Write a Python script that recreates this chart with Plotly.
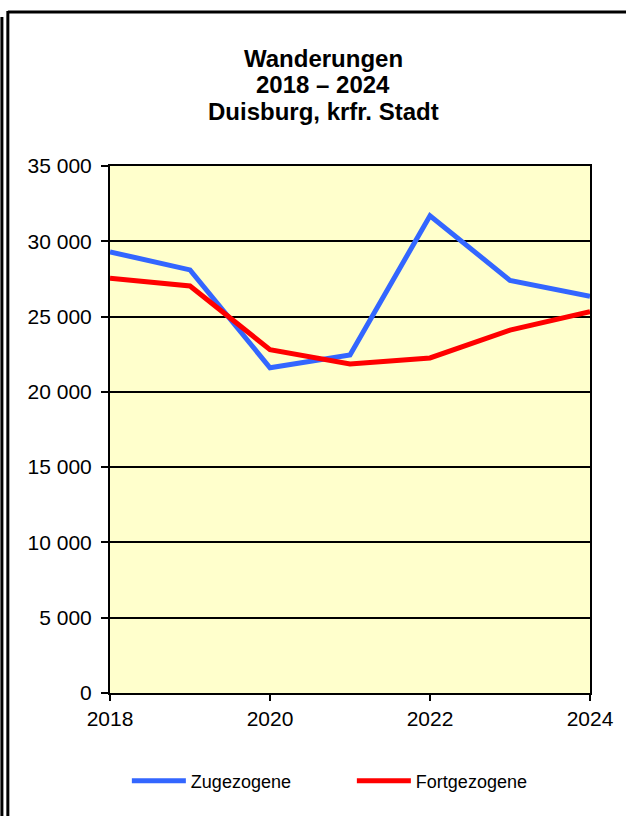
import plotly.graph_objects as go

years = [2018, 2019, 2020, 2021, 2022, 2023, 2024]
zugezogene = [29300, 28100, 21600, 22450, 31700, 27400, 26350]
fortgezogene = [27550, 27030, 22800, 21850, 22250, 24100, 25330]
y_ticks = [0, 5000, 10000, 15000, 20000, 25000, 30000, 35000]
y_tick_text = ["0", "5 000", "10 000", "15 000", "20 000", "25 000", "30 000", "35 000"]
title_lines = ["Wanderungen", "2018 – 2024", "Duisburg, krfr. Stadt"]

W, H = 626, 816
L, R, T, B = 110, 32, 166, 123
PW, PH = W - L - R, H - T - B

def px(x):
    return (x - L) / PW

def py(y):
    return (H - B - y) / PH

fig = go.Figure()
fig.add_trace(go.Scatter(x=years, y=zugezogene, mode="lines", name="Zugezogene",
                         line=dict(color="#3366FF", width=5)))
fig.add_trace(go.Scatter(x=years, y=fortgezogene, mode="lines", name="Fortgezogene",
                         line=dict(color="#FF0000", width=5)))

annotations = []
for t, yy in zip(title_lines, [58, 85, 112]):
    annotations.append(dict(text="<b>%s</b>" % t, x=px(325), y=py(yy), xref="paper", yref="paper",
                            xanchor="center", yanchor="middle", showarrow=False,
                            font=dict(family="Liberation Sans, Arial", size=24, color="black")))

shapes = [
    dict(type="line", xref="paper", yref="paper", x0=px(7), x1=px(640), y0=py(12), y1=py(12),
         line=dict(color="black", width=3)),
    dict(type="line", xref="paper", yref="paper", x0=px(7), x1=px(7), y0=py(11), y1=py(830),
         line=dict(color="black", width=3)),
    dict(type="line", xref="paper", yref="paper", x0=px(1), x1=px(1), y0=py(17), y1=py(830),
         line=dict(color="black", width=3)),
]

fig.update_layout(
    width=W, height=H,
    margin=dict(l=L, r=R, t=T, b=B),
    paper_bgcolor="white",
    plot_bgcolor="#FFFFCC",
    font=dict(family="Liberation Sans, Arial", size=21, color="black"),
    annotations=annotations,
    shapes=shapes,
    showlegend=True,
    legend=dict(orientation="h", x=px(127), xanchor="left", y=py(781), yanchor="middle",
                font=dict(size=18, color="black"), bgcolor="rgba(0,0,0,0)",
                itemwidth=54, entrywidth=156, tracegroupgap=0),
)
fig.update_xaxes(range=[2018, 2024], tickvals=[2018, 2020, 2022, 2024],
                 ticks="outside", ticklen=6, tickwidth=2, tickcolor="black",
                 showline=True, linecolor="black", linewidth=2, mirror=True,
                 showgrid=False, zeroline=False, tickfont=dict(size=21))
fig.update_yaxes(range=[0, 35000], tickvals=y_ticks, ticktext=y_tick_text,
                 ticks="outside", ticklen=7, tickwidth=2, tickcolor="black",
                 showline=True, linecolor="black", linewidth=2, mirror=True,
                 showgrid=True, gridcolor="black", gridwidth=2, zeroline=False,
                 tickfont=dict(size=21), ticklabelstandoff=5)

fig.write_html("out.html", config={"displayModeBar": False},
               post_script="document.body.style.margin='0';")
